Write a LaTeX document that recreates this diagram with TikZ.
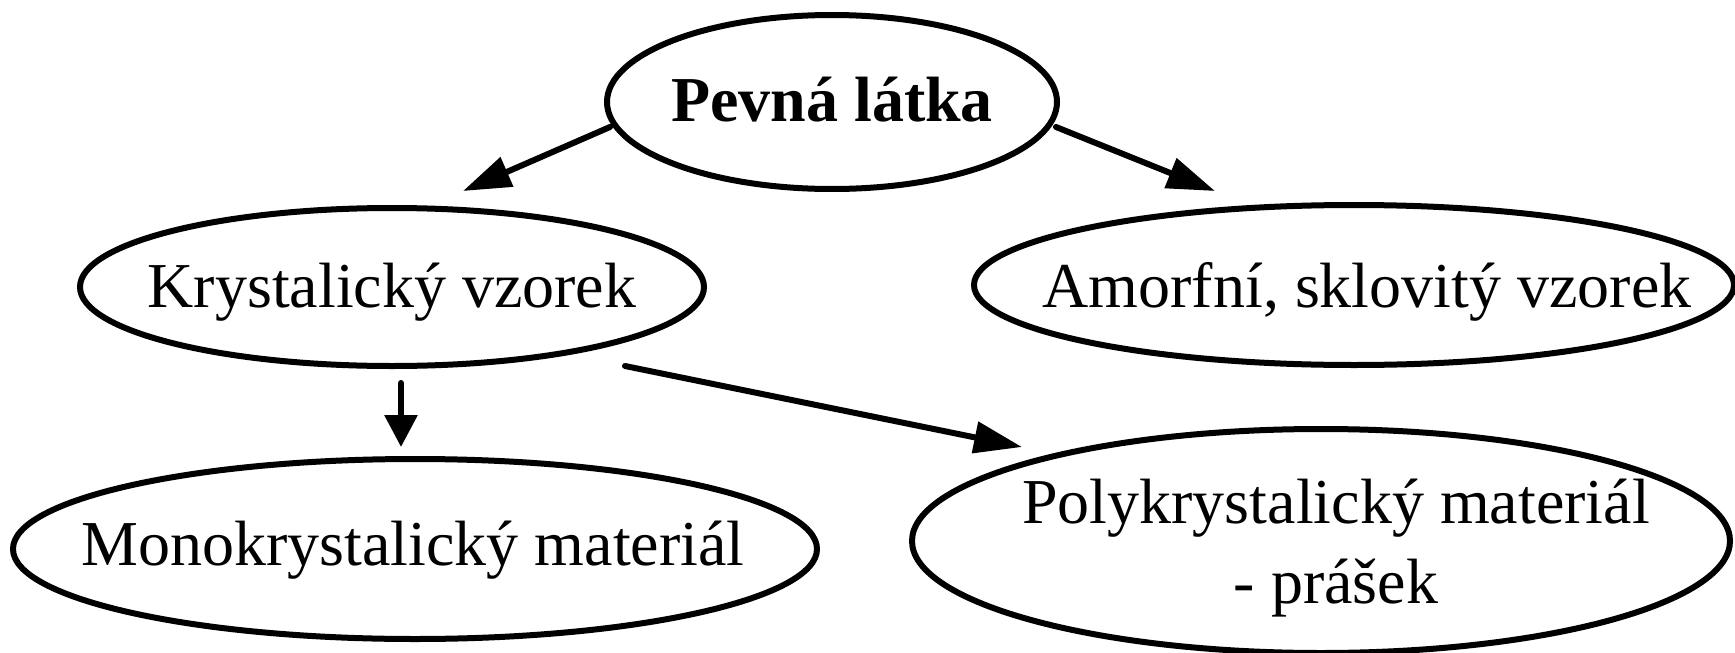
\documentclass[tikz,border=0pt]{standalone}
\usepackage{fontspec}
\setmainfont{Liberation Serif}
\usetikzlibrary{arrows.meta}
\begin{document}
\begin{tikzpicture}[x=1pt,y=-1pt,
  oval/.style={draw,line width=6pt},
  lbl/.style={font=\fontsize{64}{80}\selectfont,align=center},
  arr/.style={line width=6pt,line cap=round,-{Triangle[length=48pt,width=31pt]}},
  shortarr/.style={line width=6pt,line cap=round,-{Triangle[length=32pt,width=32pt]}}]
\useasboundingbox (0,0) rectangle (1735,653);
\draw[oval] (832,102) ellipse [x radius=225,y radius=87];
\node[lbl,font=\fontsize{64}{80}\selectfont\bfseries] (p) at (832,100) {Pevná látka};
\draw[oval] (392,287) ellipse [x radius=312,y radius=79];
\node[lbl] (k) at (392,292) {Krystalický vzorek};
\draw[oval] (1354,285) ellipse [x radius=380,y radius=80];
\node[lbl] (a) at (1367,292) {Amorfní, sklovitý vzorek};
\draw[oval] (415,549) ellipse [x radius=402,y radius=90];
\node[lbl] (m) at (413,550) {Monokrystalický materiál};
\draw[oval] (1321,541) ellipse [x radius=409,y radius=112];
\node[lbl] (y) at (1336,548) {Polykrystalický materiál\\- prášek};
\coordinate (a1s) at (610,127); \coordinate (a1e) at (463,191);
\coordinate (a2s) at (1056,127); \coordinate (a2e) at (1215,191);
\coordinate (a3s) at (401,383); \coordinate (a3e) at (401,447);
\coordinate (a4s) at (625,366); \coordinate (a4e) at (1022,447);
\draw[arr] (a1s) -- (a1e);
\draw[arr] (a2s) -- (a2e);
\draw[shortarr] (a3s) -- (a3e);
\draw[arr] (a4s) -- (a4e);
\end{tikzpicture}
\end{document}
